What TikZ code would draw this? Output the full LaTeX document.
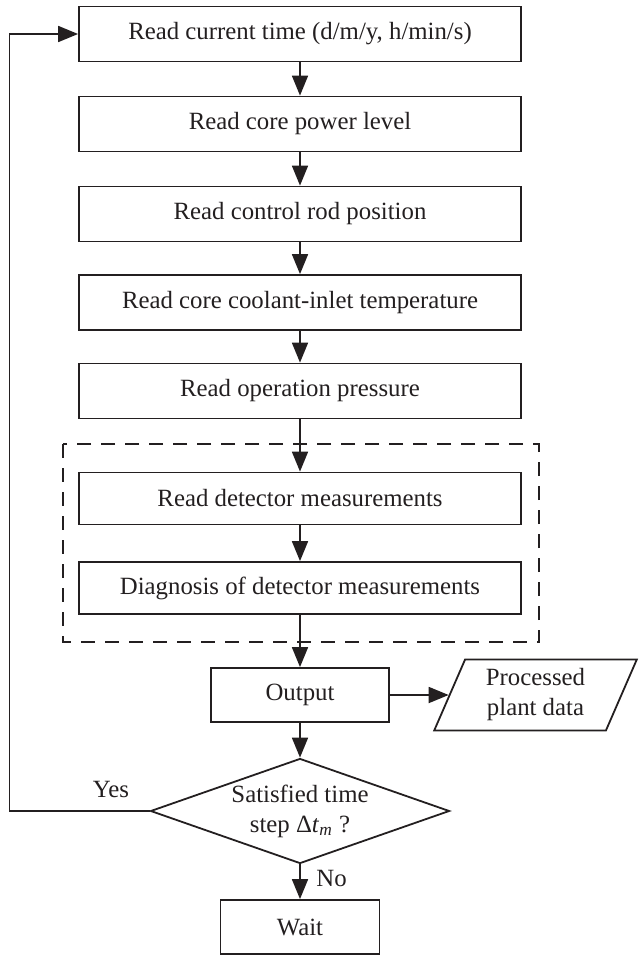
\documentclass[tikz,border=0pt]{standalone}
\usepackage{fontspec}
\setmainfont{Liberation Serif}
\usetikzlibrary{arrows.meta,shapes.geometric}
\definecolor{ink}{RGB}{35,31,32}
\begin{document}
\begin{tikzpicture}[x=0.5pt,y=-0.5pt,
  font=\fontsize{12.4}{15}\selectfont,
  every node/.style={text=ink},
  proc/.style={draw=ink, line width=0.9pt, minimum width=221pt,
    minimum height=27.5pt, inner sep=0pt},
  smallbox/.style={draw=ink, line width=0.9pt, minimum height=27pt, inner sep=0pt},
  datashape/.style={draw=ink, line width=0.9pt, trapezium,
    trapezium left angle=67.5, trapezium right angle=112.5,
    trapezium stretches=true, minimum width=101.5pt, minimum height=35.5pt,
    inner sep=0pt, align=center},
  decision/.style={draw=ink, line width=0.9pt, diamond, aspect=2.85,
    minimum width=149.5pt, minimum height=52.5pt, inner sep=0pt, align=center},
  arr/.style={draw=ink, line width=0.9pt, -{Triangle[length=10pt,width=8pt]}},
  group/.style={draw=ink, line width=0.8pt, dash pattern=on 7pt off 5pt}]
\useasboundingbox (0,0) rectangle (640,958);

% main sequence of reading steps
\node[proc] (b1) at (300,34) {Read current time (d/m/y, h/min/s)};
\node[proc] (b2) at (300,124) {Read core power level};
\node[proc] (b3) at (300,214) {Read control rod position};
\node[proc] (b4) at (300,302.5) {Read core coolant-inlet temperature};
\node[proc] (b5) at (300,391) {Read operation pressure};
\node[proc, minimum height=26pt] (b6) at (300,498.5) {Read detector measurements};
\node[proc, minimum height=26pt] (b7) at (300,588) {Diagnosis of detector measurements};

% detector group
\draw[group] (63,444) rectangle (539,642);

% output, data and decision
\node[smallbox, minimum width=89pt] (out) at (300,695) {Output};
\node[datashape] (pd) at (535.5,695) {Processed\\plant data};
\node[decision] (dec) at (300,811)
  {Satisfied time\\step Δ\textit{t}\textsubscript{\textit{m}} ?};
\node[smallbox, minimum width=79.5pt] (wait) at (300,927) {Wait};

% connectors
\draw[arr] (b1) -- (b2);
\draw[arr] (b2) -- (b3);
\draw[arr] (b3) -- (b4);
\draw[arr] (b4) -- (b5);
\draw[arr] (b5) -- (b6);
\draw[arr] (b6) -- (b7);
\draw[arr] (b7) -- (out);
\draw[arr] (out) -- (pd);
\draw[arr] (out) -- (dec);
\draw[arr] (dec) -- (wait);
\coordinate (back) at (9.5,811);
\draw[arr] (dec.west) -- (back) |- (b1.west);

% branch labels
\node[anchor=base] (yes) at (111,797) {Yes};
\node[anchor=base] (no) at (331.5,886.5) {No};
\end{tikzpicture}
\end{document}
